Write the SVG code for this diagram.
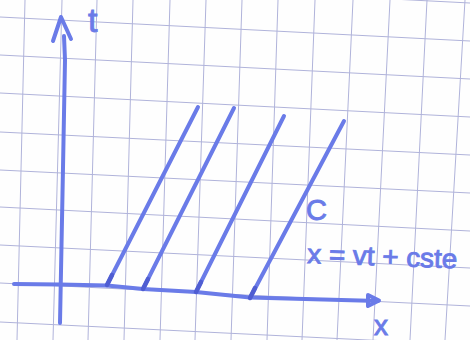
<svg xmlns="http://www.w3.org/2000/svg" width="470" height="340" viewBox="0 0 470 340">
  <style>
    .grid line { stroke: #b0b3da; stroke-width: 1; }
    .pen { fill: none; stroke: #6a7be8; stroke-width: 4; stroke-linecap: round; stroke-linejoin: round; }
    .dot { fill: none; stroke: #4f5dd2; stroke-width: 4.5; stroke-linecap: round; }
    .lbl { font-family: "Liberation Sans", "DejaVu Sans", sans-serif; fill: #6a7be8; stroke: #6a7be8; stroke-width: 0.9; }
  </style>
  <rect width="470" height="340" fill="#fefefe"/>
  <g id="grid" class="grid">
    <line x1="25" y1="0" x2="17" y2="340"/>
    <line x1="62" y1="0" x2="53" y2="340"/>
    <line x1="97" y1="0" x2="88" y2="340"/>
    <line x1="133" y1="0" x2="124" y2="340"/>
    <line x1="170" y1="0" x2="160" y2="340"/>
    <line x1="206" y1="0" x2="195" y2="340"/>
    <line x1="242" y1="0" x2="231" y2="340"/>
    <line x1="278" y1="0" x2="267" y2="340"/>
    <line x1="315" y1="0" x2="302" y2="340"/>
    <line x1="353" y1="0" x2="337" y2="340"/>
    <line x1="390" y1="0" x2="373" y2="340"/>
    <line x1="427" y1="0" x2="410" y2="340"/>
    <line x1="465" y1="0" x2="445" y2="340"/>
    <line x1="0" y1="-21" x2="470" y2="3"/>
    <line x1="0" y1="17" x2="470" y2="41"/>
    <line x1="0" y1="55" x2="470" y2="79"/>
    <line x1="0" y1="93" x2="470" y2="117"/>
    <line x1="0" y1="132" x2="470" y2="155"/>
    <line x1="0" y1="170" x2="470" y2="193"/>
    <line x1="0" y1="207" x2="470" y2="231"/>
    <line x1="0" y1="245" x2="470" y2="268"/>
    <line x1="0" y1="283" x2="470" y2="306"/>
    <line x1="0" y1="322" x2="470" y2="345"/>
  </g>
  <g id="axes">
    <path id="t-axis" class="pen" d="M60,323 C61,230 64,150 65,60 L64,36"/>
    <path class="pen" d="M53,41 L61,17 L71,39"/>
    <path id="x-axis" class="pen" d="M14,284 L60,284.5 L107,285.5 L143,289 L196,292 L250,297.5 L378,301"/>
    <path class="pen" d="M368,295 L379,300.5 L368,306 Z" fill="#6a7be8"/>
  </g>
  <g id="characteristics">
    <line class="pen" x1="107" y1="285" x2="198" y2="107"/>
    <line class="pen" x1="143" y1="289" x2="234" y2="108"/>
    <line class="pen" x1="196" y1="292" x2="284" y2="116"/>
    <line class="pen" x1="250" y1="298" x2="344" y2="121"/>
    <line class="dot" x1="107" y1="285" x2="112" y2="275"/>
    <line class="dot" x1="143" y1="289" x2="148" y2="279"/>
    <line class="dot" x1="196" y1="292" x2="201" y2="282"/>
    <line class="dot" x1="250" y1="298" x2="255" y2="288"/>
  </g>
  <g id="labels">
    <text class="lbl" x="88" y="32" font-size="34">t</text>
    <text class="lbl" x="306" y="220" font-size="29">C</text>
    <text class="lbl" x="307" y="263" font-size="27" textLength="150" lengthAdjust="spacingAndGlyphs" transform="rotate(2 307 263)">x = vt + cste</text>
    <text class="lbl" x="374" y="335" font-size="28">x</text>
  </g>
</svg>
